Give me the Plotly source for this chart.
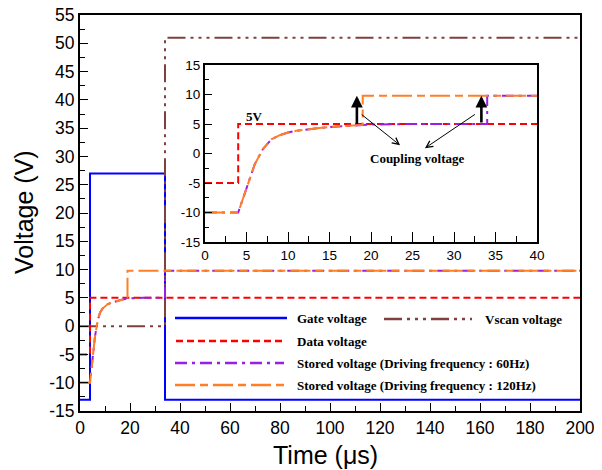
import plotly.graph_objects as go

# ---------------- data ----------------
gate_t = [0, 4, 4, 34, 34, 200]
gate_v = [-13, -13, 27, 27, -13, -13]

vscan_t = [0, 34, 34, 200]
vscan_v = [0, 0, 51, 51]

data_t = [0, 4, 4, 200]
data_v = [-5, -5, 5, 5]

s60_t = [0, 4, 5, 6, 7, 8, 9, 10, 11, 12, 13, 14, 15, 16, 17, 18, 20, 25, 30, 34, 34, 200]
s60_v = [-10, -10, -5.9, -1.8, 0.8, 2.4, 3.1, 3.55, 3.85, 4.05, 4.2, 4.35, 4.5, 4.6, 4.7, 4.8, 4.9, 5.0, 5.0, 5.0, 9.8, 9.8]

s120_t = [0, 4, 5, 6, 7, 8, 9, 10, 11, 12, 13, 14, 15, 16, 17, 18, 19, 19, 200]
s120_v = [-10, -10, -5.9, -1.8, 0.8, 2.4, 3.1, 3.55, 3.85, 4.05, 4.2, 4.35, 4.5, 4.6, 4.7, 4.8, 4.85, 9.8, 9.8]

x_main_ticks = list(range(0, 201, 20))
y_main_ticks = list(range(-15, 56, 5))
x_inset_ticks = list(range(0, 41, 5))
y_inset_ticks = list(range(-15, 16, 5))

legend_names = ["Gate voltage", "Vscan voltage", "Data voltage",
                "Stored voltage (Driving frequency : 60Hz)",
                "Stored voltage (Driving frequency : 120Hz)"]

# ---------------- styles ----------------
BLUE = "#0000FF"
RED = "#FF0000"
BROWN = "#804040"
PURPLE = "#9B1FE0"
ORANGE = "#FF7F27"
D_DATA = "7px,4px"
D_VSCAN = "18px,5px,3px,5px,3px,5px,3px,5px"
D_60 = "12px,5px,3px,5px"
D_120 = "20px,5px,8px,5px"

styles = [
    (BLUE, "solid", 2),
    (BROWN, D_VSCAN, 2),
    (RED, D_DATA, 2),
    (PURPLE, D_60, 2),
    (ORANGE, D_120, 2),
]

fig = go.Figure()

def add(t, v, st, xa="x", ya="y"):
    c, d, w = st
    fig.add_trace(go.Scatter(x=t, y=v, mode="lines", xaxis=xa, yaxis=ya,
                             line=dict(color=c, dash=d, width=w),
                             showlegend=False, hoverinfo="skip"))

# main plot
add(gate_t, gate_v, styles[0])
add(vscan_t, vscan_v, styles[1])
add(data_t, data_v, styles[2])
add(s60_t, s60_v, styles[3])
add(s120_t, s120_v, styles[4])

# inset
add(data_t, data_v, styles[2], "x2", "y2")
add(s60_t, s60_v, styles[3], "x2", "y2")
add(s120_t, s120_v, styles[4], "x2", "y2")

# ---------------- layout ----------------
# the page body has an 8px margin, so the figure is drawn 8px right/down
OFF = 8
W, H = 602 - OFF, 470 - OFF
PX0, PX1, PY0, PY1 = 80, 580, 15, 411          # plot area in screen pixels
L, R, T, B = PX0 - OFF, W + OFF - PX1, PY0 - OFF, H + OFF - PY1
PW, PH = PX1 - PX0, PY1 - PY0

def pp(px, py):
    return (px - PX0) / PW, (PY1 - py) / PH

SANS = "Liberation Sans, Arial, sans-serif"
SERIF = "Liberation Serif, Times New Roman, serif"

def axis(rng, ticks, minor_d, size, tl, mtl, **kw):
    return dict(range=rng, tickvals=ticks, ticktext=[str(t) for t in ticks],
                showgrid=False, zeroline=False, showline=True, linecolor="black",
                linewidth=2, mirror=True, ticks="inside", ticklen=tl, tickwidth=1.3,
                tickcolor="black", automargin=False, ticklabeloverflow="allow",
                minor=dict(ticks="inside", ticklen=mtl, dtick=minor_d, tickcolor="black",
                           tickwidth=1.3, showgrid=False),
                tickfont=dict(family=SANS, size=size, color="black"), **kw)

ix0, iy1 = pp(205, 65)
ix1, iy0 = pp(537, 242)

fig.update_layout(
    width=W, height=H, margin=dict(l=L, r=R, t=T, b=B, pad=0),
    paper_bgcolor="white", plot_bgcolor="white", showlegend=False,
    xaxis=axis([0, 200], x_main_ticks, 10, 17.5, 8, 5),
    yaxis=axis([-15, 55], y_main_ticks, 2.5, 17.5, 8, 5),
    xaxis2=axis([0, 40], x_inset_ticks, 2.5, 13.5, 10, 6, domain=[ix0, ix1], anchor="y2"),
    yaxis2=axis([-15, 15], y_inset_ticks, 2.5, 13.5, 7, 4, domain=[iy0, iy1], anchor="x2"),
)

ann = []
# axis titles
tx, ty = pp(325, 455)
ann.append(dict(x=tx, y=ty, xref="paper", yref="paper", text="Time (μs)", showarrow=False,
                xanchor="center", yanchor="middle",
                font=dict(family=SANS, size=25, color="black")))
tx, ty = pp(24, 212)
ann.append(dict(x=tx, y=ty, xref="paper", yref="paper", text="Voltage (V)", showarrow=False,
                textangle=-90, xanchor="center", yanchor="middle",
                font=dict(family=SANS, size=25, color="black")))

# ---------------- inset annotations ----------------
# thick coupling arrows
for xv, y0, y1 in [(18.3, 4.8, 9.8), (33.3, 5.0, 9.8)]:
    ann.append(dict(x=xv, y=y1, ax=xv, ay=y0, xref="x2", yref="y2", axref="x2", ayref="y2",
                    showarrow=True, arrowhead=2, arrowsize=0.9, arrowwidth=2.6,
                    arrowcolor="black", text=""))
# thin pointer arrows
for (hx, hy), (sx, sy) in [((23.5, 1.4), (18.7, 6.8)), ((26.5, 0.9), (32.7, 6.8))]:
    ann.append(dict(x=hx, y=hy, ax=sx, ay=sy, xref="x2", yref="y2", axref="x2", ayref="y2",
                    showarrow=True, arrowhead=5, arrowsize=1.3, arrowwidth=1,
                    arrowcolor="black", text=""))
ann.append(dict(x=25.6, y=-0.8, xref="x2", yref="y2", text="<b>Coupling voltage</b>",
                showarrow=False, font=dict(family=SERIF, size=13, color="black")))
ann.append(dict(x=6.0, y=6.2, xref="x2", yref="y2", text="<b>5V</b>",
                showarrow=False, font=dict(family=SERIF, size=13, color="black")))

# ---------------- legend (drawn) ----------------
shapes = []
rows = [
    (0, 175, 287, 318, 295),
    (1, 384, 472, 319, 483),
    (2, 176, 286, 341, 295),
    (3, 175, 284, 363, 295),
    (4, 175, 286, 385, 295),
]
for i, x0, x1, yy, txp in rows:
    c, d, w = styles[i]
    a0, b0 = pp(x0, yy)
    a1, _ = pp(x1, yy)
    shapes.append(dict(type="line", xref="paper", yref="paper", x0=a0, x1=a1, y0=b0, y1=b0,
                       line=dict(color=c, dash=d, width=2.5)))
    ta, tb = pp(txp, yy)
    ann.append(dict(x=ta, y=tb, xref="paper", yref="paper", xanchor="left", yanchor="middle",
                    text="<b>" + legend_names[i] + "</b>", showarrow=False,
                    font=dict(family=SERIF, size=13, color="black")))

fig.update_layout(annotations=ann, shapes=shapes)

fig.write_html("out.html")
